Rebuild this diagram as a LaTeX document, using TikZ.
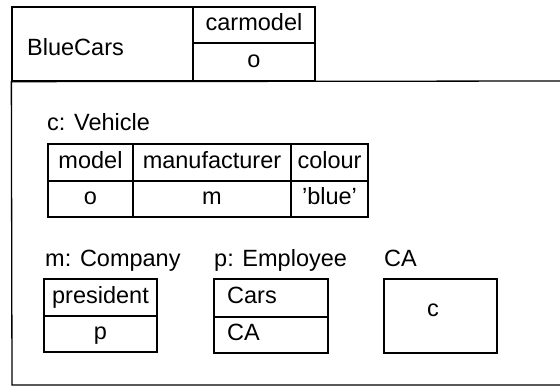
\documentclass[tikz,border=0pt]{standalone}
\usepackage{fontspec}
\setmainfont{Liberation Sans}
\begin{document}
\begin{tikzpicture}[x=1pt,y=-1pt,
  every node/.style={font=\fontsize{23.5}{27}\selectfont, text height=16.8pt, text depth=4.9pt, inner sep=0pt},
  cell/.style={draw, line width=1.3pt, rectangle},
  frame/.style={line width=1.3pt}]
\useasboundingbox (0,0) rectangle (560,389);
% header
\node[cell, minimum width=181pt, minimum height=74pt] (bc) at (102.5,44) {};
\node[anchor=west] (bctext) at (27,50) {BlueCars};
\node[cell, minimum width=122pt, minimum height=36pt] (carmodel) at (254,25) {carmodel};
\node[cell, minimum width=122pt, minimum height=38pt] (carval) at (254,62) {o};
% body frame
\coordinate (tr) at (560,81);
\coordinate (bl) at (12,385);
\coordinate (br) at (560,385);
\draw[frame] (tr) -- (bc.south west) -- (bl) -- (br);
% Vehicle
\node[anchor=west] (vlab) at (47,125) {c: Vehicle};
\node[cell, minimum width=85pt, minimum height=37pt] (model) at (90.5,162.5) {model};
\node[cell, minimum width=158pt, minimum height=37pt] (manuf) at (212,162.5) {manufacturer};
\node[cell, minimum width=77pt, minimum height=37pt] (colour) at (329.5,162.5) {colour};
\node[cell, minimum width=85pt, minimum height=36pt] (modelv) at (90.5,199) {o};
\node[cell, minimum width=158pt, minimum height=36pt] (manufv) at (212,199) {m};
\node[cell, minimum width=77pt, minimum height=36pt] (colourv) at (329.5,199) {'blue'};
% Company
\node[anchor=west] (clab) at (45,261) {m: Company};
\node[cell, minimum width=113pt, minimum height=37pt] (pres) at (100.5,297.5) {president};
\node[cell, minimum width=113pt, minimum height=36pt] (presv) at (100.5,334) {p};
% Employee
\node[anchor=west] (elab) at (214,261) {p: Employee};
\node[cell, minimum width=114pt, minimum height=38pt] (cars) at (271,298) {};
\node[cell, minimum width=114pt, minimum height=36pt] (carsv) at (271,335) {};
\node[anchor=west] (carst) at (227,298) {Cars};
\node[anchor=west] (carsvt) at (227,335) {CA};
% CA
\node[anchor=west] (calab) at (384,261) {CA};
\node[cell, minimum width=113pt, minimum height=74pt] (ca) at (440.5,316) {};
\node (cat) at (433,311) {c};
\end{tikzpicture}
\end{document}
